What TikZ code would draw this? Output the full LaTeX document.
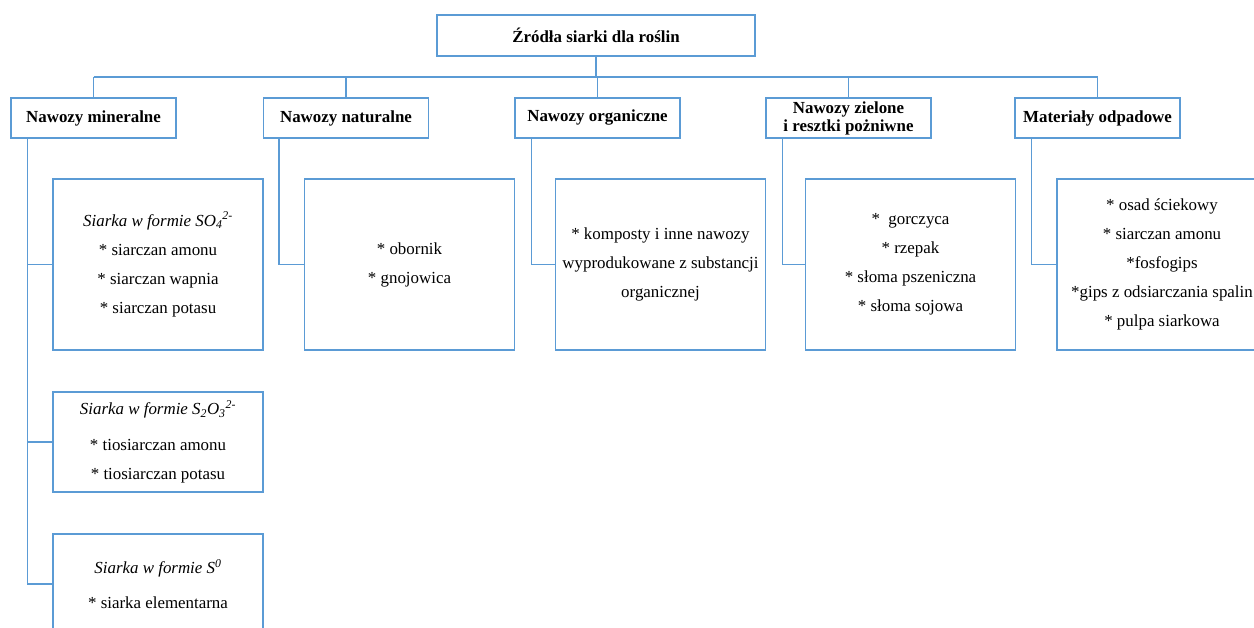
\documentclass[tikz,border=0pt]{standalone}
\usepackage{fontspec}
\setmainfont{Liberation Serif}
\definecolor{ln}{RGB}{91,155,213}
\begin{document}
\begin{tikzpicture}[x=1pt,y=-1pt,
  box/.style={draw=ln, line width=1.4pt, fill=white, inner sep=0pt, align=center},
  titlebox/.style={box, minimum width=318pt, minimum height=41pt, font=\fontsize{16.9}{18}\selectfont\bfseries},
  catbox/.style={box, minimum width=165pt, minimum height=40pt, font=\fontsize{16.9}{18}\selectfont\bfseries},
  itembox/.style={box, minimum width=210pt, minimum height=171pt, font=\fontsize{16.9}{29}\selectfont},
  subbox/.style={box, minimum width=210pt, minimum height=100pt, font=\fontsize{16.9}{29}\selectfont},
  conn/.style={draw=ln, line width=1.4pt}]
\useasboundingbox (0,0) rectangle (1254,628);

\node[titlebox] (top) at (596,35.5) {Źródła siarki dla roślin};

\node[catbox] (c1) at (93.5,118) {Nawozy mineralne};
\node[catbox] (c2) at (346,118) {Nawozy naturalne};
\node[catbox] (c3) at (597.5,118) {Nawozy organiczne};
\node[catbox] (c4) at (848.5,118) {Nawozy zielone\\i resztki pożniwne};
\node[catbox] (c5) at (1097.5,118) {Materiały odpadowe};

\node[itembox] (i1) at (158,264.5) {\textit{Siarka w formie SO\textsubscript{4}\textsuperscript{2-}}\\* siarczan amonu\\* siarczan wapnia\\* siarczan potasu};
\node[subbox] (i2) at (158,442) {\textit{Siarka w formie S\textsubscript{2}O\textsubscript{3}\textsuperscript{2-}}\\[7pt]* tiosiarczan amonu\\* tiosiarczan potasu};
\node[subbox] (i3) at (158,584) {\textit{Siarka w formie S\textsuperscript{0}}\\[6pt]* siarka elementarna};
\node[itembox] (n1) at (409.5,264.5) {* obornik\\* gnojowica};
\node[itembox] (o1) at (660.5,264.5) {* komposty i inne nawozy\\wyprodukowane z substancji\\organicznej};
\node[itembox] (z1) at (910.5,264.5) {*\ \ gorczyca\\* rzepak\\* słoma pszeniczna\\* słoma sojowa};
\node[itembox] (m1) at (1162,264.5) {* osad ściekowy\\* siarczan amonu\\*fosfogips\\*gips z odsiarczania spalin\\* pulpa siarkowa};

\coordinate (bus) at (596,77);
\draw[conn] (top.south) -- (top.south |- bus);
\draw[conn] (c1.north |- bus) -- (c5.north |- bus);
\foreach \c in {c1,c2,c3,c4,c5} \draw[conn] (\c.north) -- (\c.north |- bus);

\coordinate (m) at ([xshift=17pt]c1.south west);
\draw[conn] (m) |- (i1.west);
\draw[conn] (m) |- (i2.west);
\draw[conn] (m) |- (i3.west);
\draw[conn] ([xshift=16pt]c2.south west) |- (n1.west);
\draw[conn] ([xshift=17pt]c3.south west) |- (o1.west);
\draw[conn] ([xshift=17pt]c4.south west) |- (z1.west);
\draw[conn] ([xshift=17pt]c5.south west) |- (m1.west);
\end{tikzpicture}
\end{document}
